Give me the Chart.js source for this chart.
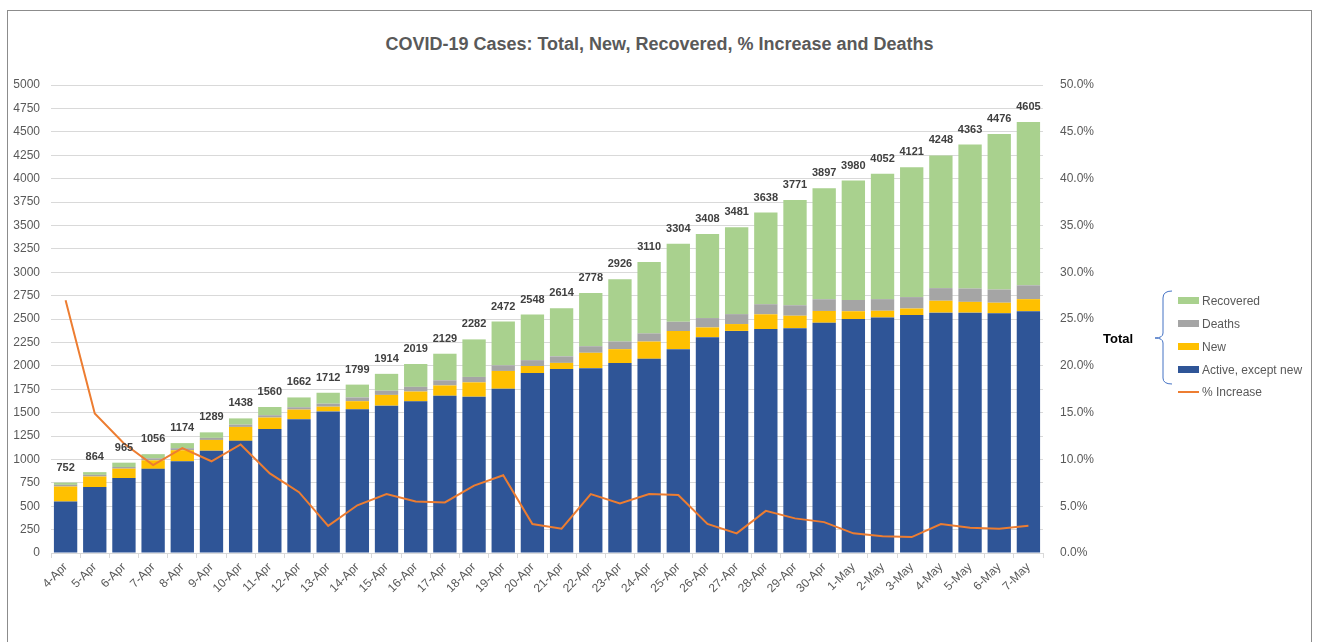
<!DOCTYPE html>
<html>
<head>
<meta charset="utf-8">
<script src="https://cdn.jsdelivr.net/npm/chart.js@4"></script>
<style>
  html, body { margin: 0; padding: 0; background: #fff; }
  body { width: 1319px; height: 642px; position: relative; overflow: hidden; font-family: "Liberation Sans", Arial, sans-serif; }
  #frame { position: absolute; left: 7px; top: 10px; width: 1305px; height: 640px; border: 1px solid #8c8c8c; box-sizing: border-box; }
  #title { position: absolute; left: 0; width: 1319px; top: 34px; text-align: center; font-size: 18px; font-weight: bold; color: #595959; }
  #wrap { position: absolute; left: 0; top: 0; width: 1319px; height: 642px; }
  #legend { position: absolute; left: 1100px; top: 288px; width: 210px; height: 115px; font-size: 12px; color: #595959; }
  #legend .total { position: absolute; left: 3px; top: 43px; font-size: 13px; font-weight: bold; color: #000; }
  #legend .item { position: absolute; left: 78px; height: 16px; line-height: 16px; white-space: nowrap; }
  #legend .sw { display: inline-block; width: 21px; height: 7px; margin-right: 3px; vertical-align: middle; position: relative; top: -1px; }
  #legend .ln { display: inline-block; width: 21px; height: 2px; margin-right: 3px; vertical-align: middle; position: relative; top: -1px; }
  #legend svg { position: absolute; left: 0; top: 0; }
</style>
</head>
<body>
<div id="frame"></div>
<div id="title">COVID-19 Cases: Total, New, Recovered, % Increase and Deaths</div>
<div id="wrap"><canvas id="chart" width="1319" height="642"></canvas></div>
<div id="legend">
  <svg width="80" height="115"><path d="M72 3 Q63 3 63 10 L63 45 Q63 50 55 50 Q63 50 63 55 L63 90 Q63 96 72 96" fill="none" stroke="#4472C4" stroke-width="1"/></svg>
  <div class="total">Total</div>
  <div class="item" style="top:5px"><span class="sw" style="background:#A9D18E"></span>Recovered</div>
  <div class="item" style="top:28px"><span class="sw" style="background:#A5A5A5"></span>Deaths</div>
  <div class="item" style="top:51px"><span class="sw" style="background:#FFC000"></span>New</div>
  <div class="item" style="top:74px"><span class="sw" style="background:#2F5597"></span>Active, except new</div>
  <div class="item" style="top:96px"><span class="ln" style="background:#ED7D31"></span>% Increase</div>
</div>
<script>
const dates = ['4-Apr','5-Apr','6-Apr','7-Apr','8-Apr','9-Apr','10-Apr','11-Apr','12-Apr','13-Apr',
  '14-Apr','15-Apr','16-Apr','17-Apr','18-Apr','19-Apr','20-Apr','21-Apr','22-Apr','23-Apr',
  '24-Apr','25-Apr','26-Apr','27-Apr','28-Apr','29-Apr','30-Apr','1-May','2-May','3-May',
  '4-May','5-May','6-May','7-May'];

const totals = [752, 864, 965, 1056, 1174, 1289, 1438, 1560, 1662, 1712,
  1799, 1914, 2019, 2129, 2282, 2472, 2548, 2614, 2778, 2926,
  3110, 3304, 3408, 3481, 3638, 3771, 3897, 3980, 4052, 4121,
  4248, 4363, 4476, 4605];

const active = [550, 705, 800, 899, 980, 1093, 1198, 1325, 1430, 1513,
  1535, 1574, 1620, 1680, 1670, 1755, 1922, 1965, 1975, 2030,
  2075, 2178, 2306, 2373, 2393, 2402, 2460, 2500, 2516, 2543,
  2568, 2568, 2561, 2583];

const newCases = [160, 112, 101, 91, 118, 115, 149, 122, 102, 50,
  87, 115, 105, 110, 153, 190, 76, 66, 164, 148,
  184, 194, 104, 73, 157, 133, 126, 83, 72, 69,
  127, 115, 113, 129];

const deaths = [18, 18, 18, 22, 22, 22, 24, 25, 25, 32,
  40, 45, 50, 55, 58, 60, 62, 70, 70, 82,
  87, 98, 100, 106, 108, 112, 125, 120, 124, 122,
  135, 143, 141, 148];

const recovered = [24, 29, 46, 44, 54, 59, 67, 88, 105, 117,
  137, 180, 244, 284, 401, 467, 488, 513, 569, 666,
  764, 834, 898, 929, 980, 1124, 1186, 1277, 1340, 1387,
  1418, 1537, 1661, 1745];

const pctIncrease = [27.0, 14.9, 11.7, 9.4, 11.2, 9.8, 11.6, 8.5, 6.5, 2.9,
  5.1, 6.3, 5.5, 5.4, 7.2, 8.3, 3.1, 2.6, 6.3, 5.3,
  6.3, 6.2, 3.1, 2.1, 4.5, 3.7, 3.3, 2.1, 1.8, 1.7,
  3.1, 2.7, 2.6, 2.9];

const countTicks = [0, 5000, 250];   // min, max, step
const pctTicks = [0, 50, 5];

const axisGrey = '#595959';
const gridGrey = '#d9d9d9';
const fontFam = '"Liberation Sans", Arial, sans-serif';

// total labels above each stack
const totalLabels = {
    id: 'totalLabels',
    afterDatasetsDraw(chart) {
        const ctx = chart.ctx;
        const x = chart.scales.x, y = chart.scales.y;
        ctx.save();
        ctx.font = 'bold 11px ' + fontFam;
        ctx.fillStyle = '#404040';
        ctx.textAlign = 'center';
        ctx.textBaseline = 'middle';
        totals.forEach(function(t, i) {
            ctx.fillText(String(t), x.getPixelForValue(i), y.getPixelForValue(t) - 15);
        });
        ctx.restore();
    }
};

const barBase = { type: 'bar', yAxisID: 'y', stack: 'total', order: 1, barPercentage: 0.8, categoryPercentage: 1.0 };

new Chart(document.getElementById('chart'), {
    data: {
        labels: dates,
        datasets: [
            { ...barBase, label: 'Active, except new', data: active, backgroundColor: '#2F5597' },
            { ...barBase, label: 'New', data: newCases, backgroundColor: '#FFC000' },
            { ...barBase, label: 'Deaths', data: deaths, backgroundColor: '#A5A5A5' },
            { ...barBase, label: 'Recovered', data: recovered, backgroundColor: '#A9D18E' },
            { type: 'line', label: '% Increase', data: pctIncrease, yAxisID: 'y1', order: 0,
              borderColor: '#ED7D31', borderWidth: 2, pointRadius: 0, tension: 0, fill: false }
        ]
    },
    options: {
        responsive: false,
        animation: false,
        events: [],
        layout: { padding: { top: 85, left: 0, right: 216, bottom: 29 } },
        plugins: { legend: { display: false }, title: { display: false }, tooltip: { enabled: false } },
        scales: {
            x: {
                stacked: true,
                grid: { offset: true, drawOnChartArea: false, drawTicks: true, tickLength: 5, color: gridGrey },
                border: { color: gridGrey },
                ticks: { color: axisGrey, font: { size: 12, family: fontFam },
                         minRotation: 45, maxRotation: 45, autoSkip: false, padding: 2 },
                afterFit(s) { s.height = 60; }
            },
            y: {
                stacked: true,
                position: 'left',
                min: countTicks[0], max: countTicks[1],
                grid: { color: gridGrey, drawTicks: false },
                border: { display: false },
                ticks: { stepSize: countTicks[2], color: axisGrey, padding: 11,
                         font: { size: 12, family: fontFam },
                         callback: function(v) { return String(v); } },
                afterFit(s) { s.width = 51; }
            },
            y1: {
                position: 'right',
                min: pctTicks[0], max: pctTicks[1],
                grid: { display: false },
                border: { display: false },
                ticks: { stepSize: pctTicks[2], color: axisGrey, padding: 9,
                         font: { size: 12, family: fontFam },
                         callback: function(v) { return v.toFixed(1) + '%'; } },
                afterFit(s) { s.width = 60; }
            }
        }
    },
    plugins: [totalLabels]
});
</script>
</body>
</html>
